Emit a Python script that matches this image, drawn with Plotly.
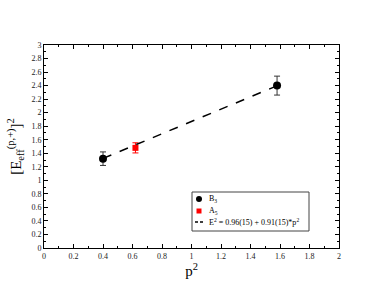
import plotly.graph_objects as go

b3_x = [0.40, 1.58]
b3_y = [1.32, 2.40]
b3_err = [0.10, 0.14]

a5_x = [0.62]
a5_y = [1.48]
a5_err = [0.075]

fit_x = [0.40, 1.62]
fit_a = 0.96
fit_b = 0.91
fit_y = [fit_a + fit_b * v for v in fit_x]

legend_labels = ["B<sub>3</sub>", "A<sub>5</sub>",
                 "E<sup>2</sup> = 0.96(15) + 0.91(15)*p<sup>2</sup>"]

serif = "Liberation Serif, Times New Roman, serif"

W, H = 382, 295
ML, MR, MT, MB = 44, 43, 45, 47
PW, PH = W - ML - MR, H - MT - MB


def px(x):
    return (x - ML) / PW


def py(y):
    return (H - MB - y) / PH


fig = go.Figure()
fig.add_trace(go.Scatter(
    x=b3_x, y=b3_y, mode="markers", name=legend_labels[0],
    marker=dict(symbol="circle", size=8, color="black"),
    error_y=dict(type="data", array=b3_err, color="#333", thickness=1, width=3),
))
fig.add_trace(go.Scatter(
    x=a5_x, y=a5_y, mode="markers", name=legend_labels[1],
    marker=dict(symbol="square", size=6, color="red"),
    error_y=dict(type="data", array=a5_err, color="red", thickness=1, width=3),
))
fig.add_trace(go.Scatter(
    x=fit_x, y=fit_y, mode="lines", name=legend_labels[2],
    line=dict(color="black", width=1.5, dash="dash"),
))

axis_common = dict(
    showgrid=False, zeroline=False, showline=True, linecolor="black", linewidth=1,
    mirror="allticks", ticks="inside", ticklen=4, tickcolor="black",
    tickfont=dict(family=serif, size=8, color="#222"),
    minor=dict(ticks="inside", ticklen=2, tickcolor="black", showgrid=False),
    automargin=False,
)

fig.update_xaxes(range=[0, 2], dtick=0.2, tick0=0, **axis_common)
fig.update_xaxes(minor_dtick=0.1,
                 title=dict(text="p<sup>2</sup>", font=dict(family=serif, size=15, color="black"), standoff=2))
fig.update_yaxes(range=[0, 3], dtick=0.2, tick0=0, **axis_common)
fig.update_yaxes(minor_dtick=0.1,
                 title=dict(text="[E<sub>eff</sub><sup>(p,+)</sup>]<sup>2</sup>",
                            font=dict(family=serif, size=15, color="black"), standoff=6))

# hand-drawn legend box (compact like the reference)
shapes = [
    dict(type="rect", xref="paper", yref="paper",
         x0=px(192), x1=px(309), y0=py(192), y1=py(231),
         line=dict(color="#444", width=1), fillcolor="white", layer="above"),
    dict(type="circle", xref="paper", yref="paper",
         x0=px(196), x1=px(202), y0=py(196), y1=py(202),
         line=dict(color="black", width=0), fillcolor="black", layer="above"),
    dict(type="rect", xref="paper", yref="paper",
         x0=px(196.5), x1=px(201.5), y0=py(208.5), y1=py(213.5),
         line=dict(color="red", width=0), fillcolor="red", layer="above"),
    dict(type="line", xref="paper", yref="paper",
         x0=px(195), x1=px(205), y0=py(222), y1=py(222),
         line=dict(color="black", width=1.5, dash="3px,2px"), layer="above"),
]
ann_y = [199, 211, 222]
annotations = [
    dict(text=t, xref="paper", yref="paper", x=px(207), y=py(yy),
         xanchor="left", yanchor="middle", showarrow=False,
         font=dict(family=serif, size=8, color="black"))
    for t, yy in zip(legend_labels, ann_y)
]

fig.update_layout(
    width=W, height=H,
    margin=dict(l=ML, r=MR, t=MT, b=MB),
    paper_bgcolor="white", plot_bgcolor="white",
    showlegend=False,
    shapes=shapes, annotations=annotations,
)

fig.write_html("out.html", config={"displayModeBar": False},
               post_script="document.body.style.margin='0';document.body.style.padding='0';")
